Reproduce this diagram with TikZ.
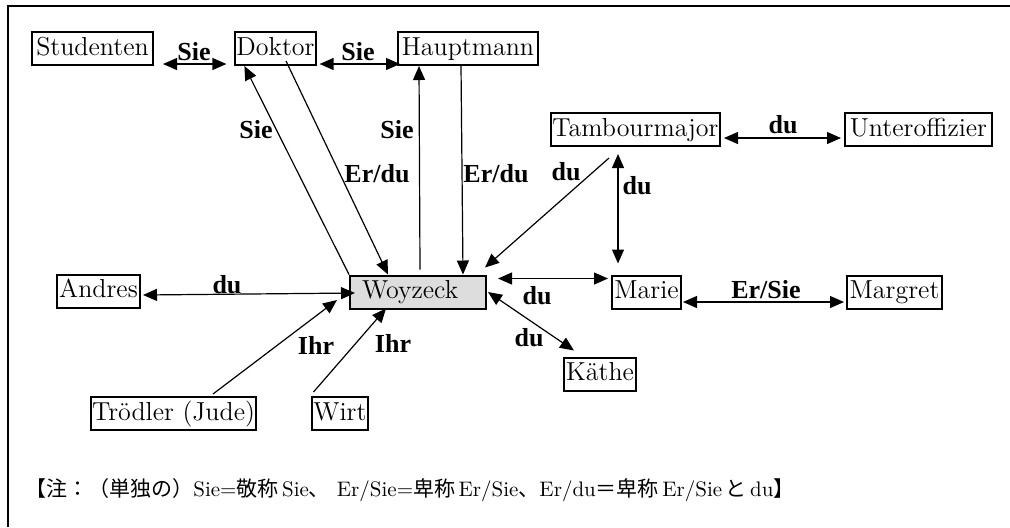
\documentclass[tikz,border=0pt]{standalone}
\usepackage{fontspec}
\newfontfamily\cjk{Noto Sans CJK JP}
\newfontfamily\labfont{Liberation Serif}
\usetikzlibrary{arrows.meta,calc}
\definecolor{boxgray}{HTML}{DDDDDD}
\begin{document}
\begin{tikzpicture}[x=0.5pt,y=-0.5pt,
  box/.style={draw,line width=1pt,inner xsep=0.5pt,inner ysep=0pt,minimum height=16.5pt,
    font=\fontsize{13}{15}\selectfont,text height=9.2pt,text depth=2.6pt},
  lab/.style={font=\labfont\bfseries\fontsize{13}{15}\selectfont,inner sep=0pt},
  con/.style={line width=0.6pt},
  tip/.style={con,-{Triangle[length=7pt,width=6pt]}},
  both/.style={con,{Triangle[length=7pt,width=6pt]}-{Triangle[length=7pt,width=6pt]}}]
\useasboundingbox (0,0) rectangle (1010,527);
\draw[line width=1.3pt] (8,527) -- (8,6) -- (1010,6);

% nodes
\node[box,minimum width=60.5pt] (stu) at (92.5,48.5) {Studenten};
\node[box,minimum width=39.5pt] (dok) at (275.5,48.5) {Doktor};
\node[box,minimum width=70pt] (hau) at (468,48.5) {Hauptmann};
\node[box,minimum width=84.5pt] (tam) at (635.5,129.5) {Tambourmajor};
\node[box,minimum width=73.5pt] (unt) at (918.5,129.5) {Unteroffizier};
\node[box,minimum width=41.5pt] (and) at (98.5,291) {Andres};
\node[box,inner xsep=6pt,text width=56pt,align=left,fill=boxgray] (woy) at (418,292) {Woyzeck};
\node[box,minimum width=34.5pt] (mar) at (646.5,292) {Marie};
\node[box,minimum width=47.5pt] (mgt) at (894.5,292) {Margret};
\node[box,minimum width=36pt] (kae) at (600,374) {Käthe};
\node[box,minimum width=79.5pt] (tro) at (173.5,413.5) {Trödler (Jude)};
\node[box,minimum width=26pt] (wir) at (340,413.5) {Wirt};

% connectors
\draw[both] ($(stu.south east)+(9,-2)$) -- ($(dok.south west)+(-8,-2)$);
\draw[both] ($(dok.south east)+(3,-2)$) -- ($(hau.south west)+(3,-2)$);
\draw[tip] (woy.north west) -- ($(dok.south west)+(10,0)$);
\draw[tip] ($(dok.south)+(10.5,-5)$) -- ($(woy.north west)+(39,0)$);
\draw[tip] ($(woy.north)+(2,-5)$) -- ($(hau.south west)+(22,0)$);
\draw[tip] ($(hau.south west)+(64,0)$) -- ($(woy.north east)+(-24,0)$);
\draw[tip] ($(tam.south west)+(59,11)$) -- ($(woy.north east)+(-2,-7)$);
\draw[both] ($(mar.north west)+(7,-11)$) -- ($(tam.south west)+(68,7)$);
\draw[both] ($(tam.south east)+(3,-9)$) -- ($(unt.south west)+(-3,-9)$);
\draw[both] ($(and.east)+(2,4)$) -- ($(woy.west)+(6,1)$);
\draw[both] ($(woy.north east)+(11,4)$) -- ($(mar.north west)+(-3,4)$);
\draw[both] ($(woy.east)+(1,0)$) -- ($(kae.north west)+(11,-6)$);
\draw[both] ($(mar.east)+(1,10)$) -- ($(mgt.west)+(-2,10)$);
\draw[tip] ($(tro.north west)+(123,-2)$) -- ($(woy.west)+(-12,8)$);
\draw[tip] ($(wir.north west)+(2,-4)$) -- ($(woy.south west)+(37,-1)$);

% labels
\node[lab] (l1) at (194,52) {Sie};
\node[lab] (l2) at (358,52) {Sie};
\node[lab] (l3) at (256,130) {Sie};
\node[lab] (l4) at (397,130) {Sie};
\node[lab] (l5) at (377,174) {Er/du};
\node[lab] (l6) at (496,174) {Er/du};
\node[lab] (l7) at (566,172) {du};
\node[lab] (l8) at (637,186) {du};
\node[lab] (l9) at (783,125) {du};
\node[lab] (l10) at (227,285) {du};
\node[lab] (l11) at (537,296) {du};
\node[lab] (l12) at (529,338) {du};
\node[lab] (l13) at (766,290) {Er/Sie};
\node[lab] (l14) at (316,345) {Ihr};
\node[lab] (l15) at (393,343) {Ihr};

% note
\node[anchor=west,inner sep=0pt,font=\fontsize{10.5}{12}\selectfont] (note) at (25,490)
  {{\cjk 【注：（単独の）}Sie={\cjk 敬称}\,Sie{\cjk 、}\ Er/Sie={\cjk 卑称}\,Er/Sie{\cjk 、}Er/du{\cjk ＝卑称}\,Er/Sie\,{\cjk と}\,du{\cjk 】}};
\end{tikzpicture}
\end{document}
